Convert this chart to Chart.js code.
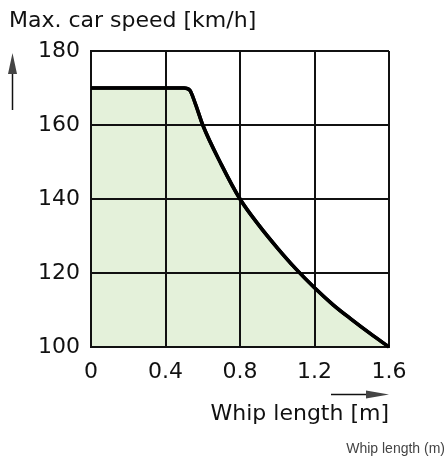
<!DOCTYPE html>
<html>
<head>
<meta charset="utf-8">
<script src="https://cdn.jsdelivr.net/npm/chart.js@4/dist/chart.umd.min.js"></script>
<style>
  html, body { margin: 0; padding: 0; background: #fff; }
  #wrap { position: relative; width: 446px; height: 459px; }
</style>
</head>
<body>
<div id="wrap"><canvas id="speed-chart" width="446" height="459"></canvas></div>
<script>
// data
const whipLength = [0, 0.5, 0.53, 0.56, 0.6, 0.7, 0.8, 0.9, 1.0, 1.1, 1.2, 1.3, 1.4, 1.5, 1.6];
const maxSpeed = [170, 170, 169.4, 165.8, 160, 149.3, 140, 133, 126.8, 121.1, 116, 111.4, 107.4, 103.6, 100];
const xTicks = [0, 0.4, 0.8, 1.2, 1.6];
const yTicks = [100, 120, 140, 160, 180];

const yTitle = "Max. car speed [km/h]";
const xTitle = "Whip length [m]";
const footNote = "Whip length (m)";

const fontName = "DejaVu Sans";

// titles + arrows, and the curve again on top of the grid
const extrasPlugin = {
    id: 'extras',
    afterDraw(chart) {
        const ctx = chart.ctx;
        const area = chart.chartArea;

        ctx.save();
        chart.getDatasetMeta(0).dataset.draw(ctx, area);
        ctx.restore();

        ctx.save();
        ctx.fillStyle = '#111';
        ctx.strokeStyle = '#111';

        ctx.font = '22px "' + fontName + '"';
        ctx.textBaseline = 'middle';
        ctx.textAlign = 'left';
        ctx.fillText(yTitle, 9, 21);

        ctx.textAlign = 'right';
        ctx.fillText(xTitle, area.right, 414);

        ctx.font = '14px "Liberation Sans"';
        ctx.fillStyle = '#444';
        ctx.fillText(footNote, 445, 449);

        // up arrow
        ctx.lineWidth = 1.5;
        ctx.beginPath();
        ctx.moveTo(12.5, 110);
        ctx.lineTo(12.5, 70);
        ctx.stroke();
        ctx.beginPath();
        ctx.moveTo(12.5, 53);
        ctx.lineTo(8, 74);
        ctx.lineTo(17, 74);
        ctx.closePath();
        ctx.fill();

        // right arrow
        ctx.beginPath();
        ctx.moveTo(331, 394.5);
        ctx.lineTo(370, 394.5);
        ctx.stroke();
        ctx.beginPath();
        ctx.moveTo(389, 394.5);
        ctx.lineTo(366, 390.5);
        ctx.lineTo(366, 398.5);
        ctx.closePath();
        ctx.fill();
        ctx.restore();
    }
};

const speedCanvas = document.getElementById("speed-chart");

const speedData = {
    datasets: [{
        data: whipLength.map((x, i) => ({ x: x, y: maxSpeed[i] })),
        borderColor: '#000',
        borderWidth: 3.5,
        backgroundColor: 'rgb(228, 241, 218)',
        fill: 'start',
        pointRadius: 0,
        cubicInterpolationMode: 'monotone'
    }]
};

const gridStyle = {
    color: '#111',
    lineWidth: 2,
    drawTicks: false,
    z: 1
};

const speedOptions = {
    responsive: false,
    animation: false,
    layout: {
        padding: { top: 51, right: 57, left: 0, bottom: 0 }
    },
    scales: {
        x: {
            type: 'linear',
            min: 0,
            max: 1.6,
            afterBuildTicks: scale => { scale.ticks = xTicks.map(v => ({ value: v })); },
            afterFit: scale => { scale.height = 112; },
            grid: gridStyle,
            border: { color: '#111', width: 2, z: 1 },
            ticks: {
                color: '#111',
                padding: 12,
                maxRotation: 0,
                font: { family: fontName, size: 22 },
                callback: v => v === 0 ? '0' : v.toFixed(1)
            }
        },
        y: {
            min: 100,
            max: 180,
            afterBuildTicks: scale => { scale.ticks = yTicks.map(v => ({ value: v })); },
            afterFit: scale => { scale.width = 91; },
            grid: gridStyle,
            border: { color: '#111', width: 2, z: 1 },
            ticks: {
                color: '#111',
                padding: 11,
                font: { family: fontName, size: 22 }
            }
        }
    },
    plugins: {
        legend: { display: false },
        tooltip: { enabled: false }
    }
};

let speedChart = new Chart(speedCanvas, {
    type: 'line',
    data: speedData,
    options: speedOptions,
    plugins: [extrasPlugin]
});
</script>
</body>
</html>
